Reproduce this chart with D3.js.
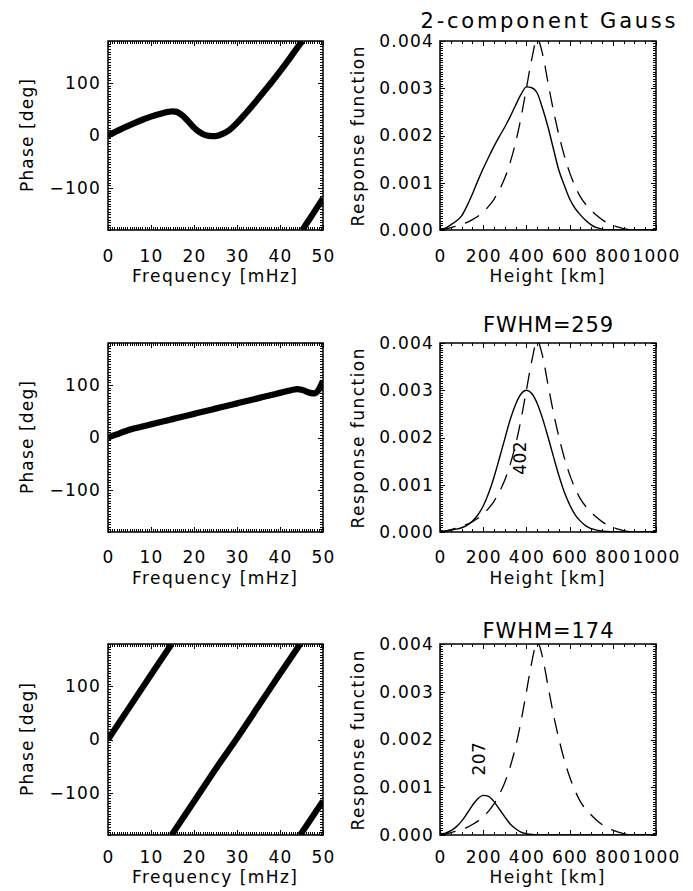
<!DOCTYPE html>
<html>
<head>
<meta charset="utf-8">
<script src="https://cdn.jsdelivr.net/npm/d3@7/dist/d3.min.js"></script>
<style>
html,body{margin:0;padding:0;background:#fff;}
svg text{font-family:"DejaVu Sans",Verdana,sans-serif;fill:#000;}
</style>
</head>
<body>
<svg id="chart" width="693" height="891"></svg>
<script>
// ---------------- data ----------------
const phaseTicks = [-100, 0, 100];
const freqTicks = [0, 10, 20, 30, 40, 50];
const heightTicks = [0, 200, 400, 600, 800, 1000];
const respTicks = [0, 0.001, 0.002, 0.003, 0.004];

const panelTitles = ["2-component Gauss", "FWHM=259", "FWHM=174"];
const peakLabels = [null, "402", "207"];

// phase curves (wrapped into -180..180 as plotted)
const freq1  = [0,2,4,6,8,10,12,14,15,16,17,18,19,20,21,22,23,24,25,26,28,30,32,34,36,38,40,42,44,45.2,45.2,46,48,50];
const phase1 = [0,8,16,23,30,36,41,45,46,45,40,33,24,15,8,3,0,-1,-1,1,9,24,42,61,81,101,122,144,167,180,-180,-170,-145,-120];

const freq2  = [0,2,4,6,8,10,12,14,16,18,20,22,24,26,28,30,32,34,36,38,40,42,43,44,45,46,47,48,49,50];
const phase2 = [0,6,12,17,21,25,29,33,37,41,45,49,53,57,61,65,69,73,77,81,85,89,91,92,91,88,85,84,91,108];

const freq3  = [0,5,10,14.8,14.8,20,25,29.8,35,40,44.7,44.7,50];
const phase3 = [0,61,122,180,-180,-117,-56,0,63,124,180,-180,-116];

// response functions vs height
const heightKm = [0,25,50,75,100,125,150,175,200,225,250,275,300,325,350,375,400,425,450,475,500,
                  525,550,575,600,625,650,675,700,725,750,775,800,825,850,875,900,925,950,975,1000];
const targetResp = [0,0.00002,0.00005,0.00008,0.00012,0.00016,0.00022,0.00029,0.00038,0.00050,0.00065,
                    0.00085,0.00110,0.00143,0.00185,0.00238,0.00300,0.00362,0.00405,0.00372,0.00312,
                    0.00253,0.00202,0.00158,0.00122,0.00093,0.00070,0.00054,0.00042,0.00031,0.00022,
                    0.00015,0.00010,0.00006,0.00003,0.00001,0,0,0,0,0];
const resp1 = [0,0.00004,0.00011,0.00019,0.00030,0.00051,0.00076,0.00104,0.00130,0.00154,0.00177,
               0.00198,0.00218,0.00240,0.00264,0.00287,0.00303,0.00301,0.00290,0.00257,0.00218,
               0.00172,0.00127,0.00095,0.00066,0.00046,0.00032,0.00020,0.00011,0.00005,0.00002,
               0,0,0,0,0,0,0,0,0,0];
const resp2 = [0.00001,0.00002,0.00004,0.00006,0.00009,0.00014,0.00023,0.00036,0.00055,0.00082,0.00116,
               0.00156,0.00197,0.00238,0.00270,0.00292,0.00300,0.00293,0.00272,0.00240,0.00201,
               0.00160,0.00120,0.00085,0.00058,0.00037,0.00023,0.00013,0.00007,0.00004,0.00002,
               0.00001,0,0,0,0,0,0,0,0,0];
const resp3 = [0.00002,0.00004,0.00009,0.00017,0.00029,0.00045,0.00062,0.00076,0.00083,0.00081,0.00070,
               0.00054,0.00038,0.00023,0.00013,0.00006,0.00003,0.00001,0,0,0,
               0,0,0,0,0,0,0,0,0,0,0,0,0,0,0,0,0,0,0,0];

// ---------------- layout ----------------
const FS = 17, LS = 1.2;
const rows = [
  {top:41,  bottom:230, titleY:28,  tickY:262, labY:282},
  {top:343, bottom:532, titleY:332, tickY:563, labY:584},
  {top:644, bottom:835, titleY:638, tickY:863, labY:883}
];
const LX = [108, 323], RX = [440, 656];
const titleLen = [255, 130, 131];
const labLen = {freq:165, phase:113, height:115, resp:180};
const peakPos = [null, {h:370, v:0.00157}, {h:183, v:0.00160}];
const phaseData = [[freq1, phase1], [freq2, phase2], [freq3, phase3]];
const respData = [resp1, resp2, resp3];

function steps(a, b, s) { const o = []; const n = Math.round((b - a) / s); for (let i = 0; i <= n; i++) o.push(+(a + i * s).toFixed(6)); return o; }

const svg = d3.select("#chart");
svg.append("rect").attr("width", 693).attr("height", 891).attr("fill", "#fff");

function styleAxis(a) {
  a.attr("font-size", null).attr("font-family", null);
  a.select(".domain").remove();
  a.selectAll("line").attr("stroke", "#000").attr("stroke-width", 1).attr("shape-rendering", "crispEdges");
  a.selectAll("text").attr("font-size", FS).style("letter-spacing", LS + "px");
  return a;
}

function frame(g, x, y, xMaj, xMin, yMaj, yMin, xFmt, yFmt, row, yPad) {
  const [xa, xb] = x.range();
  const mk = (axis, tx, ty) => styleAxis(g.append("g").attr("transform", `translate(${tx},${ty})`).call(axis));
  mk(d3.axisBottom(x).tickValues(xMin).tickSize(-3).tickFormat(""), 0, row.bottom);
  mk(d3.axisTop(x).tickValues(xMin).tickSize(-3).tickFormat(""), 0, row.top);
  mk(d3.axisLeft(y).tickValues(yMin).tickSize(-3).tickFormat(""), xa, 0);
  mk(d3.axisRight(y).tickValues(yMin).tickSize(-3).tickFormat(""), xb, 0);
  mk(d3.axisBottom(x).tickValues(xMaj).tickSize(-5).tickPadding(row.tickY - row.bottom - 0.71 * FS).tickFormat(xFmt), 0, row.bottom);
  mk(d3.axisTop(x).tickValues(xMaj).tickSize(-5).tickFormat(""), 0, row.top);
  mk(d3.axisLeft(y).tickValues(yMaj).tickSize(-5).tickPadding(yPad).tickFormat(yFmt), xa, 0);
  mk(d3.axisRight(y).tickValues(yMaj).tickSize(-5).tickFormat(""), xb, 0);
  g.append("rect").attr("x", xa).attr("y", row.top).attr("width", xb - xa).attr("height", row.bottom - row.top)
    .attr("fill", "none").attr("stroke", "#000").attr("stroke-width", 1.5);
}

function split(fs, ps) {
  const segs = []; let cur = [];
  for (let i = 0; i < fs.length; i++) {
    if (i > 0 && Math.abs(ps[i] - ps[i - 1]) > 180) { segs.push(cur); cur = []; }
    cur.push([fs[i], ps[i]]);
  }
  segs.push(cur);
  return segs;
}

function label(g, tx, ty, rot, txt, len) {
  g.append("text").attr("transform", `translate(${tx},${ty})` + (rot ? "rotate(-90)" : ""))
    .attr("text-anchor", "middle").attr("font-size", FS)
    .attr("textLength", len).attr("lengthAdjust", "spacing").text(txt);
}

const defs = svg.append("defs");

rows.forEach((row, r) => {
  // ---------- left: phase ----------
  const xL = d3.scaleLinear().domain([0, 50]).range(LX);
  const yL = d3.scaleLinear().domain([-180, 180]).range([row.bottom, row.top]);
  const gL = svg.append("g");
  const clipL = "clipL" + r;
  defs.append("clipPath").attr("id", clipL).append("rect")
    .attr("x", LX[0]).attr("y", row.top).attr("width", LX[1] - LX[0]).attr("height", row.bottom - row.top);
  const lineL = d3.line().x(d => xL(d[0])).y(d => yL(d[1])).curve(d3.curveMonotoneX);
  const [fs, ps] = phaseData[r];
  gL.append("g").attr("clip-path", `url(#${clipL})`).selectAll("path").data(split(fs, ps)).join("path")
    .attr("d", lineL).attr("fill", "none").attr("stroke", "#000").attr("stroke-width", 6.2)
    .attr("stroke-linejoin", "round").attr("stroke-linecap", "butt");
  frame(gL, xL, yL, freqTicks, steps(0, 50, 0.5), phaseTicks, steps(-180, 180, 5),
        d3.format("d"), d3.format("d"), row, 7);
  label(gL, (LX[0] + LX[1]) / 2 - 1, row.labY, false, "Frequency [mHz]", labLen.freq);
  label(gL, 33, (row.top + row.bottom) / 2, true, "Phase [deg]", labLen.phase);

  // ---------- right: response ----------
  const xR = d3.scaleLinear().domain([0, 1000]).range(RX);
  const yR = d3.scaleLinear().domain([0, 0.004]).range([row.bottom, row.top]);
  const gR = svg.append("g");
  const clipR = "clipR" + r;
  defs.append("clipPath").attr("id", clipR).append("rect")
    .attr("x", RX[0]).attr("y", row.top).attr("width", RX[1] - RX[0]).attr("height", row.bottom - row.top);
  const lineR = d3.line().x((d, i) => xR(heightKm[i])).y(d => yR(d)).curve(d3.curveMonotoneX);
  const gc = gR.append("g").attr("clip-path", `url(#${clipR})`);
  gc.append("path").attr("d", lineR(targetResp)).attr("fill", "none").attr("stroke", "#000")
    .attr("stroke-width", 1.3).attr("stroke-dasharray", "16,10");
  gc.append("path").attr("d", lineR(respData[r])).attr("fill", "none").attr("stroke", "#000")
    .attr("stroke-width", 1.4);
  frame(gR, xR, yR, heightTicks, steps(0, 1000, 50), respTicks, steps(0, 0.004, 0.00005),
        d3.format("d"), d3.format(".3f"), row, 6);
  label(gR, (RX[0] + RX[1]) / 2 - 1, row.labY, false, "Height [km]", labLen.height);
  label(gR, 364, (row.top + row.bottom) / 2 + 1, true, "Response function", labLen.resp);
  gR.append("text").attr("x", (RX[0] + RX[1]) / 2).attr("y", row.titleY)
    .attr("text-anchor", "middle").attr("font-size", 21)
    .attr("textLength", titleLen[r]).attr("lengthAdjust", "spacing").text(panelTitles[r]);
  if (peakLabels[r]) {
    const p = peakPos[r];
    gR.append("text").attr("transform", `translate(${xR(p.h)},${yR(p.v)})rotate(-90)`)
      .attr("text-anchor", "middle").attr("dy", "0.35em").attr("font-size", FS)
      .style("letter-spacing", "0.5px").text(peakLabels[r]);
  }
});
</script>
</body>
</html>
